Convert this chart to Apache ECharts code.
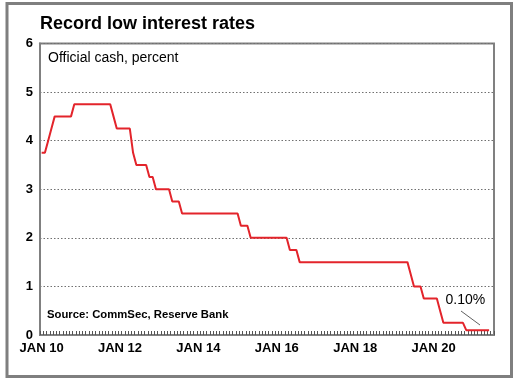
<!DOCTYPE html>
<html>
<head>
<meta charset="utf-8">
<script src="https://cdn.jsdelivr.net/npm/echarts@6/dist/echarts.min.js"></script>
<style>
html,body{margin:0;padding:0;background:#fff;}
#chart{width:520px;height:382px;}
</style>
</head>
<body>
<div id="chart"></div>
<script>
// Axis categories: monthly, Jan 2010 - Jul 2021
var monthNames = ['JAN','FEB','MAR','APR','MAY','JUN','JUL','AUG','SEP','OCT','NOV','DEC'];
var yearLabels = ['10','11','12','13','14','15','16','17','18','19','20','21'];
var lastYearMonths = 7;

// Official cash rate (percent), monthly, Jan 2010 onward
var rate2010 = [3.75,3.75,4.00,4.25,4.50,4.50,4.50,4.50,4.50,4.50,4.75,4.75];
var rate2011 = [4.75,4.75,4.75,4.75,4.75,4.75,4.75,4.75,4.75,4.75,4.50,4.25];
var rate2012 = [4.25,4.25,4.25,4.25,3.75,3.50,3.50,3.50,3.50,3.25,3.25,3.00];
var rate2013 = [3.00,3.00,3.00,3.00,2.75,2.75,2.75,2.50,2.50,2.50,2.50,2.50];
var rate2014 = [2.50,2.50,2.50,2.50,2.50,2.50,2.50,2.50,2.50,2.50,2.50,2.50];
var rate2015 = [2.50,2.25,2.25,2.25,2.00,2.00,2.00,2.00,2.00,2.00,2.00,2.00];
var rate2016 = [2.00,2.00,2.00,2.00,1.75,1.75,1.75,1.50,1.50,1.50,1.50,1.50];
var rate2017 = [1.50,1.50,1.50,1.50,1.50,1.50,1.50,1.50,1.50,1.50,1.50,1.50];
var rate2018 = [1.50,1.50,1.50,1.50,1.50,1.50,1.50,1.50,1.50,1.50,1.50,1.50];
var rate2019 = [1.50,1.50,1.50,1.50,1.50,1.25,1.00,1.00,1.00,0.75,0.75,0.75];
var rate2020 = [0.75,0.75,0.50,0.25,0.25,0.25,0.25,0.25,0.25,0.25,0.10,0.10];
var rate2021 = [0.10,0.10,0.10,0.10,0.10,0.10];

var yTicks = [0,1,2,3,4,5,6];

var titleText = 'Record low interest rates';
var subtitleText = 'Official cash, percent';
var sourceText = 'Source: CommSec, Reserve Bank';
var annotationText = '0.10%';

var categories = [];
yearLabels.forEach(function(y, i){
  var n = (i === yearLabels.length - 1) ? lastYearMonths : 12;
  for (var m = 0; m < n; m++) categories.push(monthNames[m] + ' ' + y);
});
var rates = [].concat(rate2010, rate2011, rate2012, rate2013, rate2014, rate2015,
  rate2016, rate2017, rate2018, rate2019, rate2020, rate2021);

var FONT = '"Liberation Sans", Arial, sans-serif';
var chart = echarts.init(document.getElementById('chart'), null, {renderer:'canvas'});
var option = {
  animation: false,
  backgroundColor: '#ffffff',
  grid: {left: 40, right: 26, top: 43.5, bottom: 47, show: true, borderColor: '#808080', borderWidth: 2, backgroundColor: 'transparent'},
  xAxis: {
    type: 'category',
    data: categories,
    boundaryGap: true,
    axisLine: {show: true, lineStyle: {color: '#808080', width: 2}},
    axisTick: {show: true, inside: true, length: 4, interval: 0, lineStyle: {color: '#555555', width: 1}},
    axisLabel: {
      interval: 23, margin: 7,
      color: '#000', fontFamily: FONT, fontWeight: 'bold', fontSize: 13
    },
    splitLine: {show: false}
  },
  yAxis: {
    type: 'value',
    min: yTicks[0], max: yTicks[yTicks.length - 1], interval: 1,
    axisLine: {show: true, lineStyle: {color: '#808080', width: 2}},
    axisTick: {show: false},
    axisLabel: {margin: 7, color: '#000', fontFamily: FONT, fontWeight: 'bold', fontSize: 13},
    splitLine: {show: true, lineStyle: {color: '#707070', type: [1.5, 2], width: 1}}
  },
  series: [{
    type: 'line',
    data: rates,
    showSymbol: false,
    lineStyle: {color: '#e3242b', width: 2},
    itemStyle: {color: '#e3242b'}
  }],
  graphic: [
    {type: 'rect', shape: {x: 7, y: 3.5, width: 504.5, height: 373}, style: {fill: 'none', stroke: '#7f7f7f', lineWidth: 3}, z: 100},
    {type: 'text', left: 40, top: 15, style: {text: titleText, font: 'bold 18px ' + FONT, fill: '#000'}},
    {type: 'text', left: 48, top: 51, style: {text: subtitleText, font: '14px ' + FONT, fill: '#000'}},
    {type: 'text', left: 47, top: 309, style: {text: sourceText, font: 'bold 11.3px ' + FONT, fill: '#000'}},
    {type: 'text', left: 445.5, top: 293, style: {text: annotationText, font: '14px ' + FONT, fill: '#000'}},
    {type: 'line', shape: {x1: 461, y1: 311, x2: 480, y2: 325}, style: {stroke: '#606060', lineWidth: 1}}
  ]
};
chart.setOption(option);
</script>
</body>
</html>
